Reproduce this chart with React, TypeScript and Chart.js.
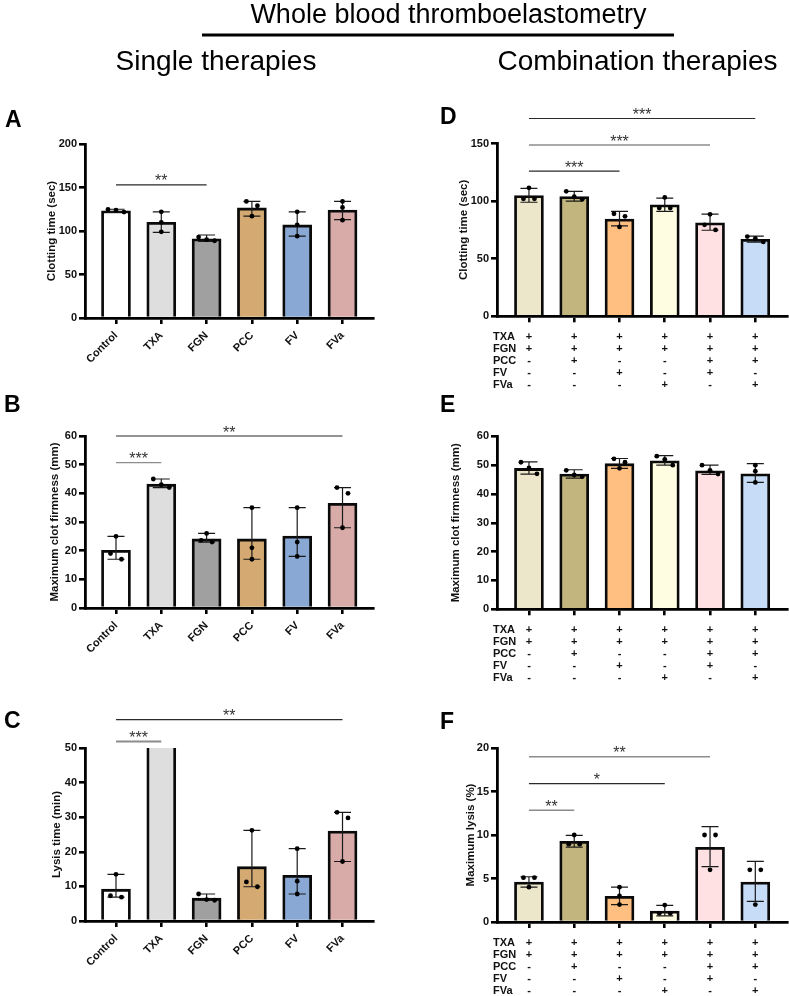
import React, { useEffect, useRef } from 'react';
import { Chart, registerables } from 'chart.js';

Chart.register(...registerables);

const FONT = '"Liberation Sans", Arial, Helvetica, sans-serif';

// ---------- categories ----------
const singleLabels = ['Control', 'TXA', 'FGN', 'PCC', 'FV', 'FVa'];
const comboRowNames = ['TXA', 'FGN', 'PCC', 'FV', 'FVa'];
const comboTXA = ['+', '+', '+', '+', '+', '+'];
const comboFGN = ['+', '+', '+', '+', '+', '+'];
const comboPCC = ['-', '+', '-', '-', '+', '+'];
const comboFV = ['-', '-', '+', '-', '+', '-'];
const comboFVa = ['-', '-', '-', '+', '-', '+'];
const comboRows = [comboTXA, comboFGN, comboPCC, comboFV, comboFVa];

// ---------- Panel A: clotting time, single ----------
const aMeans = [123.3, 110, 91, 126.5, 107, 124];
const aHigh = [125, 122, 95.4, 134, 122, 134];
const aLow = [122, 98.5, 88, 117, 94, 113];
const aDots = [[124.8, 124, 121.7], [122, 99, 110], [93, 88.8, 90], [134, 129, 117], [122, 107, 94], [134, 127, 112.5]];
const aSig = [{ from: 0, to: 2, at: 153, stars: '**' }];

// ---------- Panel B: MCF, single ----------
const bMeans = [20.1, 43.2, 24.1, 24.1, 25.1, 36.5];
const bHigh = [25, 45, 26, 35, 35, 42];
const bLow = [17, 42, 23, 17, 18, 28];
const bDots = [[25, 19, 17], [45, 42, 43], [26, 23, 23.6], [35, 21, 17], [35, 23, 18], [42, 40, 28]];
const bSig = [{ from: 0, to: 1, at: 50.7, stars: '***' }, { from: 0, to: 5, at: 60, stars: '**' }];

// ---------- Panel C: lysis time, single (TXA bar runs off the axis) ----------
const cMeans = [9.2, 60, 6.6, 15.7, 13.2, 26];
const cHigh = [13.5, null, 7.8, 26.2, 20.9, 31.4];
const cLow = [6.9, null, 6.0, 9.9, 7.8, 17.2];
const cDots = [[13.5, 7.3, 6.9], [], [7.8, 6.0, 6.2], [26.2, 11.3, 9.9], [20.9, 11.5, 7.8], [31.4, 29.8, 17.2]];
const cSig = [{ from: 0, to: 1, at: 51.9, stars: '***' }, { from: 0, to: 5, at: 58.2, stars: '**' }];

// ---------- Panel D: clotting time, combination ----------
const dMeans = [104.9, 104, 84.4, 96.8, 81.2, 66.8];
const dHigh = [111, 108.4, 91, 102.6, 88.7, 69.6];
const dLow = [99, 100, 78.5, 91, 74.7, 64.3];
const dDots = [[111.5, 102, 102], [108.5, 101.5, 103.8], [89, 86.8, 77.6], [103.2, 94, 94], [88.5, 75, 79.4], [69.2, 64.6, 67.6]];
const dSig = [
  { from: 0, to: 2, at: 126, stars: '***' },
  { from: 0, to: 4, at: 148.6, stars: '***' },
  { from: 0, to: 5, at: 171.7, stars: '***' },
];

// ---------- Panel E: MCF, combination ----------
const eMeans = [48.85, 46.9, 50.5, 51.5, 48.05, 47];
const eHigh = [51.1, 48.4, 52.3, 53.3, 50, 50.5];
const eLow = [46.9, 45.5, 48.9, 50.0, 46.8, 44];
const eDots = [[51, 49, 47], [48.2, 46, 46.6], [52.2, 51, 48.9], [53.1, 52, 50], [50, 46.9, 48.2], [50, 47.9, 44]];
const eSig: any[] = [];

// ---------- Panel F: maximum lysis, combination ----------
const fMeans = [4.6, 9.27, 2.95, 1.26, 8.58, 4.6];
const fHigh = [5.2, 9.96, 4.0, 1.9, 10.96, 6.97];
const fLow = [4.0, 8.6, 2.0, 0.7, 6.36, 2.36];
const fDots = [[5.1, 5.1, 4.0], [10, 8.95, 8.95], [4, 3, 2], [1.95, 1.0, 1.0], [10, 10, 6], [6, 6, 2]];
const fSig = [
  { from: 0, to: 1, at: 12.84, stars: '**' },
  { from: 0, to: 3, at: 15.9, stars: '*' },
  { from: 0, to: 4, at: 19, stars: '**' },
];

// ---------- styles ----------
const singleColors = ['#ffffff', '#dedede', '#a0a0a0', '#d4aa72', '#89a8d3', '#d8aba9'];
const comboColors = ['#ece6ca', '#c2b67e', '#ffbf80', '#fffde1', '#ffe0e3', '#c7dcf6'];
const GREY = '#8c8c8c';
const DARK = '#2a2a2a';

type PanelCfg = {
  means: (number)[]; high: (number | null)[]; low: (number | null)[]; dots: number[][];
  sig: { from: number; to: number; at: number; stars: string }[]; sigTone: string[]; sigWidth: number[];
  colors: string[]; yMax: number; yStep: number; yTitle: string; single: boolean;
  box: { x: number; y: number; w: number; h: number };
  yW: number; padTop: number; padRight: number; xH: number; titlePad: number; xMin: number; xMax: number;
};

const panels: PanelCfg[] = [
  {
    means: aMeans, high: aHigh, low: aLow, dots: aDots, sig: aSig, sigTone: [DARK], sigWidth: [1.2],
    colors: singleColors, yMax: 200, yStep: 50, yTitle: 'Clotting time (sec)', single: true,
    box: { x: 0, y: 100, w: 389, h: 280 }, yW: 85, padTop: 44, padRight: 16, xH: 62, titlePad: 45,
    xMin: -0.684, xMax: 5.673,
  },
  {
    means: bMeans, high: bHigh, low: bLow, dots: bDots, sig: bSig, sigTone: [GREY, DARK], sigWidth: [1.3, 1.2],
    colors: singleColors, yMax: 60, yStep: 10, yTitle: 'Maximum clot firmness (mm)', single: true,
    box: { x: 0, y: 380, w: 389, h: 290 }, yW: 85, padTop: 56, padRight: 16, xH: 62, titlePad: 48,
    xMin: -0.684, xMax: 5.673,
  },
  {
    means: cMeans, high: cHigh, low: cLow, dots: cDots, sig: cSig, sigTone: [GREY, DARK], sigWidth: [2, 1.2],
    colors: singleColors, yMax: 50, yStep: 10, yTitle: 'Lysis time (min)', single: true,
    box: { x: 0, y: 688, w: 389, h: 302 }, yW: 85, padTop: 60, padRight: 16, xH: 69, titlePad: 50,
    xMin: -0.684, xMax: 5.673,
  },
  {
    means: dMeans, high: dHigh, low: dLow, dots: dDots, sig: dSig, sigTone: [DARK, GREY, DARK], sigWidth: [1.2, 1.5, 1.2],
    colors: comboColors, yMax: 150, yStep: 50, yTitle: 'Clotting time (sec)', single: false,
    box: { x: 390, y: 95, w: 399, h: 300 }, yW: 107, padTop: 48.5, padRight: 2, xH: 78.7, titlePad: 67,
    xMin: -0.706, xMax: 5.7,
  },
  {
    means: eMeans, high: eHigh, low: eLow, dots: eDots, sig: eSig, sigTone: [], sigWidth: [],
    colors: comboColors, yMax: 60, yStep: 10, yTitle: 'Maximum clot firmness (mm)', single: false,
    box: { x: 390, y: 395, w: 399, h: 295 }, yW: 107, padTop: 41.3, padRight: 2, xH: 80.7, titlePad: 59,
    xMin: -0.706, xMax: 5.7,
  },
  {
    means: fMeans, high: fHigh, low: fLow, dots: fDots, sig: fSig, sigTone: [GREY, DARK, GREY], sigWidth: [1.4, 1.2, 1.4],
    colors: comboColors, yMax: 20, yStep: 5, yTitle: 'Maximum lysis (%)', single: false,
    box: { x: 390, y: 700, w: 399, h: 296 }, yW: 107, padTop: 48, padRight: 2, xH: 74, titlePad: 73.5,
    xMin: -0.706, xMax: 5.7,
  },
];

function dotOffsets(pix: number[]): number[] {
  const off = pix.map(() => 0);
  if (!pix.length) return off;
  const idx = pix.map((_, i) => i).sort((a, b) => pix[a] - pix[b]);
  let group = [idx[0]];
  const flush = (g: number[]) => {
    const n = g.length;
    const sp = n === 2 ? 11 : 8;
    g.forEach((k, j) => { off[k] = (j - (n - 1) / 2) * sp; });
  };
  for (let j = 1; j < idx.length; j++) {
    if (pix[idx[j]] - pix[idx[j - 1]] < 6) group.push(idx[j]);
    else { flush(group); group = [idx[j]]; }
  }
  flush(group);
  return off;
}

function buildConfig(p: PanelCfg): any {
  const overlay = {
    id: 'overlay',
    afterDatasetsDraw(chart: any) {
      const ctx = chart.ctx;
      const xs = chart.scales.x;
      const ys = chart.scales.y;
      ctx.save();
      // error bars
      p.means.forEach((_, i) => {
        const hi = p.high[i];
        const lo = p.low[i];
        if (hi == null || lo == null) return;
        const x = xs.getPixelForValue(i);
        const yh = ys.getPixelForValue(hi);
        const yl = ys.getPixelForValue(lo);
        ctx.strokeStyle = '#1a1a1a';
        ctx.lineWidth = 1.2;
        ctx.beginPath();
        ctx.moveTo(x, yh); ctx.lineTo(x, yl);
        ctx.moveTo(x - 8.5, yh); ctx.lineTo(x + 8.5, yh);
        ctx.moveTo(x - 8.5, yl); ctx.lineTo(x + 8.5, yl);
        ctx.stroke();
      });
      // individual points
      ctx.fillStyle = '#000';
      p.dots.forEach((arr, i) => {
        const x = xs.getPixelForValue(i);
        const pix = arr.map((v) => ys.getPixelForValue(v));
        const off = dotOffsets(pix);
        pix.forEach((py, k) => {
          ctx.beginPath();
          ctx.arc(x + off[k], py, 2.4, 0, Math.PI * 2);
          ctx.fill();
        });
      });
      ctx.restore();
    },
    afterDraw(chart: any) {
      const ctx = chart.ctx;
      const xs = chart.scales.x;
      const ys = chart.scales.y;
      ctx.save();
      p.sig.forEach((s, k) => {
        const x1 = xs.getPixelForValue(s.from);
        const x2 = xs.getPixelForValue(s.to);
        const yy = ys.getPixelForValue(s.at);
        ctx.strokeStyle = p.sigTone[k];
        ctx.lineWidth = p.sigWidth[k];
        ctx.beginPath();
        ctx.moveTo(x1, yy); ctx.lineTo(x2, yy);
        ctx.stroke();
        ctx.fillStyle = '#333';
        ctx.font = `16px ${FONT}`;
        ctx.textAlign = 'center';
        ctx.textBaseline = 'alphabetic';
        ctx.fillText(s.stars, (x1 + x2) / 2, yy + 1.5);
      });
      if (!p.single) {
        const area = chart.chartArea;
        ctx.fillStyle = '#111';
        ctx.font = `bold 11px ${FONT}`;
        ctx.textBaseline = 'middle';
        comboRowNames.forEach((name, r) => {
          const yy = area.bottom + 20.5 + r * 12;
          ctx.textAlign = 'left';
          ctx.fillText(name, area.left - 4, yy);
          ctx.textAlign = 'center';
          comboRows[r].forEach((sym, i) => {
            ctx.fillText(sym, xs.getPixelForValue(i), yy);
          });
        });
      }
      ctx.restore();
    },
  };

  const gridOpts = {
    display: true, drawOnChartArea: false, drawTicks: true, tickLength: 6, offset: false,
    tickWidth: 2.6, lineWidth: 2.6, tickColor: '#000', color: '#000',
  };
  const borderOpts = { display: true, color: '#000', width: 2.8 };

  return {
    type: 'bar',
    data: {
      datasets: [{
        data: p.means.map((v, i) => ({ x: i, y: v })),
        backgroundColor: p.colors,
        borderColor: '#0a0a0a',
        borderWidth: 2.8,
        barThickness: 29,
        clip: 0,
      }],
    },
    options: {
      responsive: false,
      animation: false,
      events: [],
      layout: { padding: { top: p.padTop, right: p.padRight, left: 0, bottom: 0 } },
      plugins: { legend: { display: false }, tooltip: { enabled: false } },
      scales: {
        x: {
          type: 'linear', min: p.xMin, max: p.xMax, offset: false,
          afterBuildTicks: (s: any) => { s.ticks = p.means.map((_, i) => ({ value: i })); },
          afterFit: (s: any) => { s.height = p.xH; },
          ticks: {
            autoSkip: false,
            maxRotation: p.single ? 45 : 0,
            minRotation: p.single ? 45 : 0,
            padding: 5,
            color: '#111',
            font: { family: FONT, size: 11, weight: 'bold' },
            callback: (v: number) => (p.single ? singleLabels[v] ?? '' : ''),
          },
          grid: gridOpts,
          border: borderOpts,
        },
        y: {
          min: 0, max: p.yMax,
          afterFit: (s: any) => { s.width = p.yW; },
          ticks: { stepSize: p.yStep, padding: 2, color: '#111', font: { family: FONT, size: 11, weight: 'bold' } },
          grid: gridOpts,
          border: borderOpts,
          title: {
            display: true, text: p.yTitle, color: '#111',
            font: { family: FONT, size: 11.5, weight: 'bold' },
            padding: { top: p.titlePad, bottom: 0 },
          },
        },
      },
    },
    plugins: [overlay],
  };
}

function Panel({ cfg }: { cfg: PanelCfg }) {
  const ref = useRef<HTMLCanvasElement | null>(null);
  useEffect(() => {
    if (!ref.current) return;
    const chart = new Chart(ref.current, buildConfig(cfg));
    return () => chart.destroy();
  }, [cfg]);
  const { x, y, w, h } = cfg.box;
  return (
    <canvas
      ref={ref}
      width={w}
      height={h}
      style={{ position: 'absolute', left: x, top: y, width: w, height: h }}
    />
  );
}

const letters = [
  { t: 'A', x: 5, y: 126.5 },
  { t: 'B', x: 4, y: 412 },
  { t: 'C', x: 4, y: 728 },
  { t: 'D', x: 440, y: 124 },
  { t: 'E', x: 440, y: 412 },
  { t: 'F', x: 440, y: 729 },
];

export default function App() {
  return (
    <div style={{ position: 'absolute', left: 0, top: 0, width: 789, height: 996, background: '#fff', overflow: 'hidden' }}>
      {panels.map((p, i) => <Panel key={i} cfg={p} />)}
      <svg
        width={789}
        height={996}
        style={{ position: 'absolute', left: 0, top: 0, pointerEvents: 'none' }}
        fontFamily={FONT}
      >
        <text x={448.5} y={23} fontSize={27} textAnchor="middle" fill="#000">Whole blood thromboelastometry</text>
        <line x1={202} x2={674} y1={35} y2={35} stroke="#000" strokeWidth={3} />
        <text x={216} y={70} fontSize={28} textAnchor="middle" fill="#000">Single therapies</text>
        <text x={637.5} y={70} fontSize={28} textAnchor="middle" fill="#000">Combination therapies</text>
        {letters.map((l) => (
          <text key={l.t} x={l.x} y={l.y} fontSize={23} fontWeight="bold" fill="#000">{l.t}</text>
        ))}
      </svg>
    </div>
  );
}
